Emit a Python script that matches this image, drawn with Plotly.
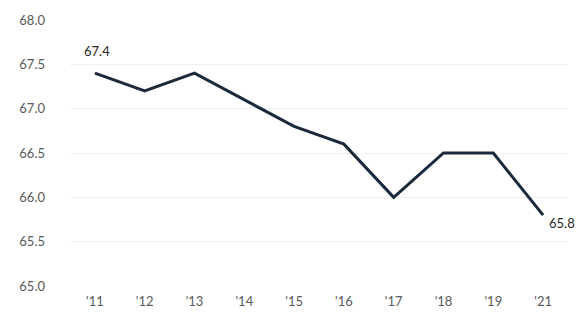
import plotly.graph_objects as go

years = ["'11", "'12", "'13", "'14", "'15", "'16", "'17", "'18", "'19", "'21"]
values = [67.4, 67.2, 67.4, 67.1, 66.8, 66.6, 66.0, 66.5, 66.5, 65.8]
y_ticks = [65.0, 65.5, 66.0, 66.5, 67.0, 67.5, 68.0]

fig = go.Figure()
fig.add_trace(go.Scatter(
    x=years, y=values, mode="lines",
    line=dict(color="#1b2a3a", width=3),
    cliponaxis=False, showlegend=False,
))

lab_font = dict(family="Lato, Open Sans, sans-serif", size=13, color="#262626")
fig.add_annotation(x=years[0], y=values[0], text=f"{values[0]:.1f}",
                   showarrow=False, yshift=22, xshift=2, font=lab_font)
fig.add_annotation(x=years[-1], y=values[-1], text=f"{values[-1]:.1f}",
                   showarrow=False, xanchor="left", xshift=4, yshift=-8, font=lab_font)

fig.update_layout(
    width=584, height=322,
    margin=dict(l=70, r=16, t=17, b=36),
    paper_bgcolor="white", plot_bgcolor="white",
    font=dict(family="Lato, Open Sans, sans-serif", size=13, color="#595959"),
    xaxis=dict(type="category", range=[-0.5, 9.5], showgrid=False, showline=False,
               zeroline=False, ticks="", ticklabelstandoff=6,
               tickfont=dict(size=13, color="#595959")),
    yaxis=dict(range=[65.0, 68.0], tickvals=y_ticks,
               ticktext=[f"{v:.1f}" for v in y_ticks],
               showgrid=True, gridcolor="#f0f0f0", gridwidth=1,
               zeroline=False, showline=False, ticks="",
               ticklabelstandoff=24, tickfont=dict(size=13, color="#595959")),
)

fig.write_html("out.html")
